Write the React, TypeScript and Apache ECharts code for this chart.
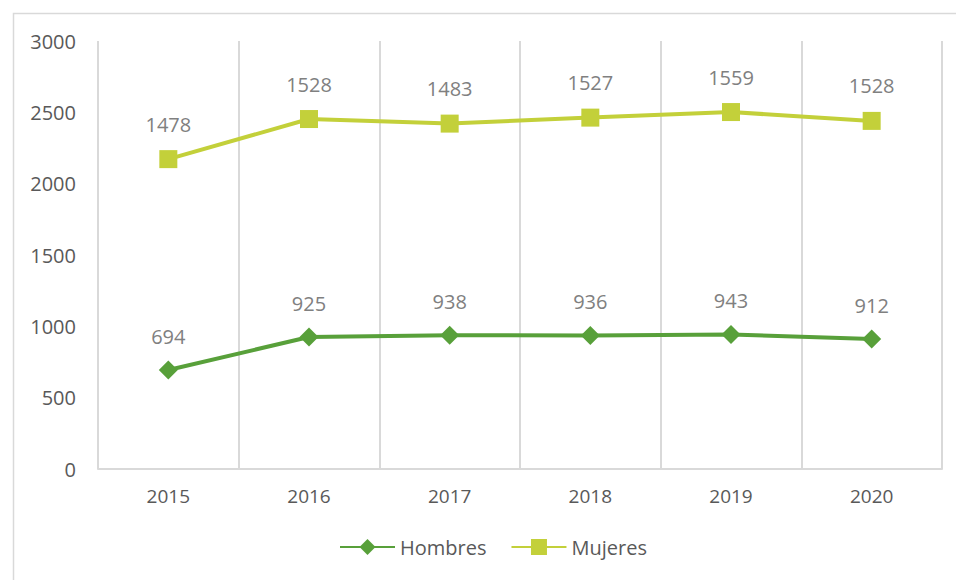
import React, { useEffect, useRef } from "react";
import * as echarts from "echarts";

const years = ["2015", "2016", "2017", "2018", "2019", "2020"];
const hombres = [694, 925, 938, 936, 943, 912];
const mujeres = [1478, 1528, 1483, 1527, 1559, 1528];
const yTicks = { min: 0, max: 3000, interval: 500 };

const FONT = "'Open Sans', sans-serif";

export default function App() {
  const ref = useRef<HTMLDivElement>(null);
  useEffect(() => {
    document.body.style.margin = "0";
    const chart = echarts.init(ref.current!, null, { renderer: "svg" });
    chart.setOption({
      animation: false,
      backgroundColor: "#ffffff",
      textStyle: { fontFamily: FONT },
      graphic: [
        {
          type: "rect",
          left: 11,
          top: 11,
          shape: { x: 0, y: 0, width: 1000, height: 1000 },
          style: { fill: "none", stroke: "#d9d9d9", lineWidth: 1.5 },
          silent: true,
          z: -1,
        },
      ],
      grid: { left: 98, right: 14, top: 41, bottom: 111, containLabel: false },
      legend: {
        bottom: 18,
        left: 334,
        itemWidth: 55,
        itemHeight: 20,
        itemGap: 24,
        textStyle: { fontFamily: FONT, fontSize: 20, color: "#595959" },
        data: ["Hombres", "Mujeres"],
      },
      xAxis: {
        type: "category",
        data: years,
        boundaryGap: true,
        axisLine: { show: true, lineStyle: { color: "#d9d9d9", width: 2 } },
        axisTick: { show: false },
        splitLine: { show: true, lineStyle: { color: "#d9d9d9", width: 2 } },
        axisLabel: { fontFamily: FONT, fontSize: 19, color: "#595959", margin: 17 },
      },
      yAxis: {
        type: "value",
        min: yTicks.min,
        max: yTicks.max,
        interval: yTicks.interval,
        axisLine: { show: false },
        axisTick: { show: false },
        splitLine: { show: false },
        axisLabel: {
          fontFamily: FONT,
          fontSize: 20,
          color: "#595959",
          margin: 22,
          formatter: (v: number) => String(v),
        },
      },
      series: [
        {
          name: "Hombres",
          type: "line",
          stack: "total",
          data: hombres,
          symbol: "diamond",
          symbolSize: 19,
          lineStyle: { color: "#58a03a", width: 4 },
          itemStyle: { color: "#58a03a" },
          label: {
            show: true,
            position: "top",
            distance: 14,
            fontFamily: FONT,
            fontSize: 20,
            color: "#808080",
          },
        },
        {
          name: "Mujeres",
          type: "line",
          stack: "total",
          data: mujeres,
          symbol: "rect",
          symbolSize: 18,
          lineStyle: { color: "#c3d03a", width: 4 },
          itemStyle: { color: "#c3d03a" },
          label: {
            show: true,
            position: "top",
            distance: 16,
            fontFamily: FONT,
            fontSize: 20,
            color: "#808080",
          },
        },
      ],
    });
    return () => chart.dispose();
  }, []);
  return (
    <div
      ref={ref}
      style={{ width: 956, height: 580, position: "absolute", left: 0, top: 0 }}
    />
  );
}
